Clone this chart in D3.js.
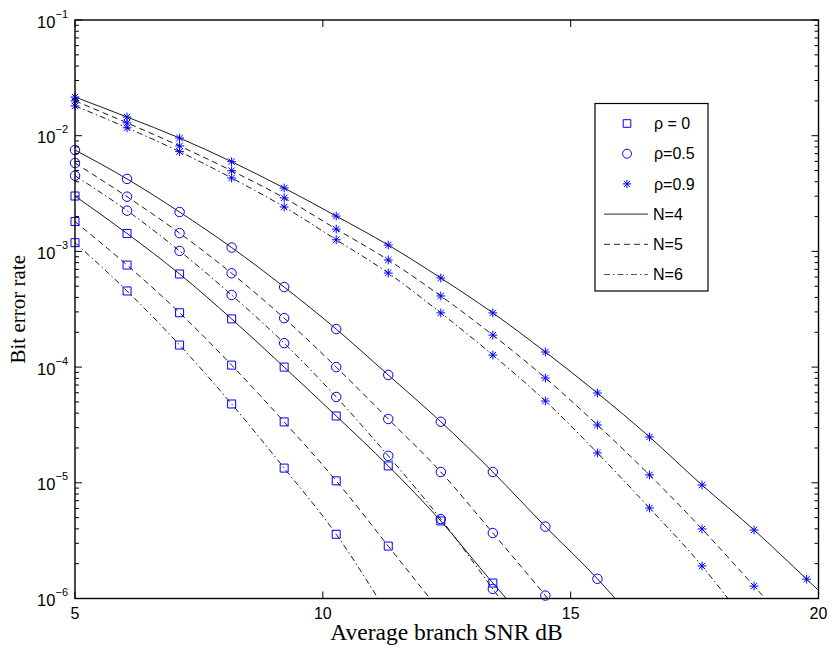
<!DOCTYPE html>
<html>
<head>
<meta charset="utf-8">
<script src="https://cdn.jsdelivr.net/npm/d3@7"></script>
<style>
  body { margin: 0; background: #fff; }
  svg { display: block; }
</style>
</head>
<body>
<svg id="chart" width="832" height="650"></svg>
<script>
// simulated points (markers) and analytic curves share the same SNR grid;
// the last value of each series sits below 1e-6 so the curve runs off the axis
const snr = [5, 6.05, 7.11, 8.16, 9.22, 10.27, 11.32, 12.38, 13.43, 14.49, 15.54, 16.59, 17.65, 18.7, 19.76, 20.81];

// rho = 0
const ber0N4 = [3.01e-3, 1.43e-3, 6.38e-4, 2.61e-4, 1.00e-4, 3.78e-5, 1.40e-5, 4.68e-6, 1.36e-6, 4.2e-7];
const ber0N5 = [1.81e-3, 7.62e-4, 2.95e-4, 1.04e-4, 3.36e-5, 1.04e-5, 2.84e-6, 7.6e-7];
const ber0N6 = [1.19e-3, 4.55e-4, 1.55e-4, 4.80e-5, 1.34e-5, 3.59e-6, 7.2e-7];
// rho = 0.5
const ber5N4 = [7.52e-3, 4.23e-3, 2.19e-3, 1.08e-3, 4.92e-4, 2.13e-4, 8.55e-5, 3.37e-5, 1.24e-5, 4.18e-6, 1.48e-6, 4.5e-7];
const ber5N5 = [5.81e-3, 2.97e-3, 1.44e-3, 6.47e-4, 2.65e-4, 1.00e-4, 3.56e-5, 1.24e-5, 3.68e-6, 1.06e-6, 2.95e-7];
const ber5N6 = [4.51e-3, 2.25e-3, 1.01e-3, 4.20e-4, 1.61e-4, 5.52e-5, 1.71e-5, 4.86e-6, 1.21e-6, 2.9e-7];
// rho = 0.9
const ber9N4 = [2.16e-2, 1.45e-2, 9.55e-3, 5.96e-3, 3.53e-3, 2.02e-3, 1.135e-3, 5.89e-4, 2.94e-4, 1.35e-4, 5.97e-5, 2.49e-5, 9.57e-6, 3.91e-6, 1.47e-6, 5.5e-7];
const ber9N5 = [2.00e-2, 1.29e-2, 8.15e-3, 4.98e-3, 2.90e-3, 1.56e-3, 8.43e-4, 4.12e-4, 1.89e-4, 8.05e-5, 3.16e-5, 1.17e-5, 3.99e-6, 1.28e-6, 4.0e-7];
const ber9N6 = [1.81e-2, 1.17e-2, 7.28e-3, 4.31e-3, 2.42e-3, 1.26e-3, 6.50e-4, 2.94e-4, 1.27e-4, 5.09e-5, 1.81e-5, 6.05e-6, 1.91e-6, 5.0e-7];

const xTicks = [5, 10, 15, 20];
const yTicks = [1e-6, 1e-5, 1e-4, 1e-3, 1e-2, 1e-1];
const rhoLabels = ['ρ = 0', 'ρ=0.5', 'ρ=0.9'];
const nLabels = ['N=4', 'N=5', 'N=6'];

const series = [
    {rho: 0, n: 0, vals: ber0N4}, {rho: 0, n: 1, vals: ber0N5}, {rho: 0, n: 2, vals: ber0N6},
    {rho: 1, n: 0, vals: ber5N4}, {rho: 1, n: 1, vals: ber5N5}, {rho: 1, n: 2, vals: ber5N6},
    {rho: 2, n: 0, vals: ber9N4}, {rho: 2, n: 1, vals: ber9N5}, {rho: 2, n: 2, vals: ber9N6}
];

const dashes = [null, '6,4', '6,3,1.5,3'];
const blue = '#0000ff';
const sans = '"Liberation Sans", Arial, Helvetica, sans-serif';
const serif = '"Liberation Serif", "Times New Roman", Times, serif';

const plotLeft = 75, plotRight = 818.5, plotTop = 20, plotBottom = 598.5;
const x = d3.scaleLinear().domain([5, 20]).range([plotLeft, plotRight]);
const y = d3.scaleLog().domain([1e-6, 1e-1]).range([plotBottom, plotTop]);

const svg = d3.select('#chart');

svg.append('defs').append('clipPath').attr('id', 'plot-clip')
    .append('rect')
    .attr('x', plotLeft).attr('y', plotTop)
    .attr('width', plotRight - plotLeft).attr('height', plotBottom - plotTop);

// marker shapes, centred on 0,0
const markerPath = (kind, s) => {
    if(kind === 0) return `M${-s},${-s}H${s}V${s}H${-s}Z`;
    if(kind === 1) {
        const r = s * 1.18;
        return `M${-r},0A${r},${r} 0 1,0 ${r},0A${r},${r} 0 1,0 ${-r},0`;
    }
    const d = s * 0.8;
    return `M${-s * 1.1},0H${s * 1.1}M0,${-s * 1.1}V${s * 1.1}M${-d},${-d}L${d},${d}M${-d},${d}L${d},${-d}`;
};

// curves
const line = d3.line()
    .curve(d3.curveMonotoneX)
    .x(d => x(d.x))
    .y(d => y(d.v));

const curves = svg.append('g').attr('clip-path', 'url(#plot-clip)');
curves.selectAll('.curve')
    .data(series)
    .enter()
    .append('path')
    .classed('curve', true)
    .attr('d', s => line(s.vals.map((v, i) => ({x: snr[i], v}))))
    .attr('fill', 'none')
    .attr('stroke', '#000')
    .attr('stroke-width', 0.9)
    .attr('stroke-dasharray', s => dashes[s.n]);

// markers
const points = [];
series.forEach(s => s.vals.forEach((v, i) => {
    if(v >= 1e-6 && snr[i] <= 20) points.push({x: snr[i], v, rho: s.rho});
}));

svg.append('g')
    .selectAll('.marker')
    .data(points)
    .enter()
    .append('path')
    .classed('marker', true)
    .attr('transform', d => `translate(${x(d.x)},${y(d.v)})`)
    .attr('d', d => markerPath(d.rho, 4))
    .attr('fill', 'none')
    .attr('stroke', blue)
    .attr('stroke-width', 1);

// axes box with inward ticks on all four sides
const axes = svg.append('g').attr('stroke', '#000').attr('stroke-width', 1);
axes.append('rect')
    .attr('x', plotLeft).attr('y', plotTop)
    .attr('width', plotRight - plotLeft).attr('height', plotBottom - plotTop)
    .attr('fill', 'none')
    .attr('stroke-width', 1.4);

const minor = [];
yTicks.slice(0, -1).forEach(t => {
    for(let k = 2; k <= 9; k++) minor.push(t * k);
});

const tickLines = [];
yTicks.forEach(t => {
    tickLines.push([plotLeft, y(t), plotLeft + 7, y(t)]);
    tickLines.push([plotRight, y(t), plotRight - 7, y(t)]);
});
minor.forEach(t => {
    tickLines.push([plotLeft, y(t), plotLeft + 4, y(t)]);
    tickLines.push([plotRight, y(t), plotRight - 4, y(t)]);
});
xTicks.forEach(t => {
    tickLines.push([x(t), plotBottom, x(t), plotBottom - 7]);
    tickLines.push([x(t), plotTop, x(t), plotTop + 7]);
});

axes.selectAll('.tick')
    .data(tickLines)
    .enter()
    .append('line')
    .classed('tick', true)
    .attr('x1', d => d[0]).attr('y1', d => d[1])
    .attr('x2', d => d[2]).attr('y2', d => d[3]);

// tick labels
svg.append('g')
    .selectAll('.xlabel')
    .data(xTicks)
    .enter()
    .append('text')
    .classed('xlabel', true)
    .attr('x', d => x(d))
    .attr('y', plotBottom + 20)
    .attr('text-anchor', 'middle')
    .style('font-family', sans)
    .style('font-size', '16px')
    .text(d => d);

const yl = svg.append('g')
    .selectAll('.ylabel')
    .data(yTicks)
    .enter()
    .append('text')
    .classed('ylabel', true)
    .attr('x', plotLeft - 7)
    .attr('y', d => y(d) + 7.5)
    .attr('text-anchor', 'end')
    .style('font-family', sans)
    .style('font-size', '16.5px');
yl.append('tspan').text('10');
yl.append('tspan')
    .attr('dy', -10)
    .style('font-size', '11px')
    .text(d => '−' + Math.round(-Math.log10(d)));

// axis titles
svg.append('text')
    .attr('x', 446.5)
    .attr('y', 640)
    .attr('text-anchor', 'middle')
    .style('font-family', serif)
    .style('font-size', '23.5px')
    .text('Average branch SNR dB');

svg.append('text')
    .attr('transform', `translate(25,${(plotTop + plotBottom) / 2}) rotate(-90)`)
    .attr('text-anchor', 'middle')
    .style('font-family', serif)
    .style('font-size', '21px')
    .text('Bit error rate');

// legend
const legend = svg.append('g');
legend.append('rect')
    .attr('x', 595).attr('y', 103.5)
    .attr('width', 113).attr('height', 187.5)
    .attr('fill', '#fff')
    .attr('stroke', '#000')
    .attr('stroke-width', 1.2);

const rowY = i => 123.5 + i * 30.2;

rhoLabels.forEach((label, i) => {
    legend.append('path')
        .attr('transform', `translate(627,${rowY(i)})`)
        .attr('d', markerPath(i, 3.8))
        .attr('fill', 'none')
        .attr('stroke', blue)
        .attr('stroke-width', 1);
    legend.append('text')
        .attr('x', 654).attr('y', rowY(i))
        .attr('dy', '0.35em')
        .style('font-family', sans)
        .style('font-size', '16px')
        .text(label);
});

nLabels.forEach((label, i) => {
    const ly = rowY(i + 3);
    legend.append('line')
        .attr('x1', 604).attr('x2', 648)
        .attr('y1', ly).attr('y2', ly)
        .attr('stroke', '#555')
        .attr('stroke-width', 1.2)
        .attr('stroke-dasharray', dashes[i]);
    legend.append('text')
        .attr('x', 653).attr('y', ly)
        .attr('dy', '0.35em')
        .style('font-family', sans)
        .style('font-size', '16px')
        .text(label);
});
</script>
</body>
</html>
